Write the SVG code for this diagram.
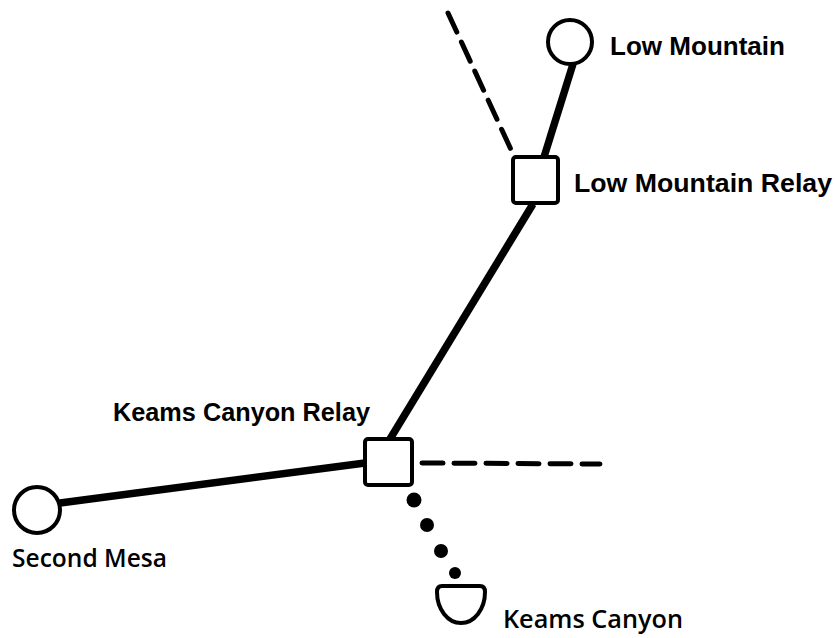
<svg xmlns="http://www.w3.org/2000/svg" width="836" height="638" viewBox="0 0 836 638">
<style>
.bg{fill:#fff}
.node{fill:#fff;stroke:#000;stroke-width:4}
.solid{stroke:#000;stroke-width:7.5;stroke-linecap:butt;fill:none}
.dash{stroke:#000;stroke-width:5;stroke-dasharray:21 11;stroke-linecap:round;fill:none}
.dot{fill:#000}
.lbl{font-family:"Liberation Sans",Arial,sans-serif;font-weight:bold;font-size:26px;fill:#000}
.lbl2{font-family:"Open Sans","Liberation Sans",sans-serif;font-weight:600;font-size:25px;fill:#000}
</style>
<rect class="bg" x="0" y="0" width="836" height="638"/>
<g id="connectors">
<line class="solid" x1="573" y1="64" x2="544" y2="157"/>
<line class="solid" x1="533" y1="204" x2="390" y2="439"/>
<line class="solid" x1="60" y1="503" x2="365" y2="463"/>
<line class="dash" x1="448" y1="13" x2="513" y2="154"/>
<line class="dash" x1="422" y1="463" x2="600" y2="464"/>
<circle class="dot" cx="414" cy="500" r="7.5"/>
<circle class="dot" cx="427" cy="525" r="7"/>
<circle class="dot" cx="441" cy="551" r="7"/>
<circle class="dot" cx="455" cy="573" r="6"/>
</g>
<g id="low-mountain">
<circle class="node" cx="570" cy="42" r="22"/>
<text class="lbl" x="610" y="55" textLength="175" lengthAdjust="spacingAndGlyphs">Low Mountain</text>
</g>
<g id="low-mountain-relay">
<rect class="node" x="513" y="157" width="45" height="46" rx="3"/>
<text class="lbl" x="574" y="192" textLength="258" lengthAdjust="spacingAndGlyphs">Low Mountain Relay</text>
</g>
<g id="keams-canyon-relay">
<rect class="node" x="365" y="439" width="47" height="46" rx="3"/>
<text class="lbl" x="113" y="421" textLength="257" lengthAdjust="spacingAndGlyphs">Keams Canyon Relay</text>
</g>
<g id="second-mesa">
<circle class="node" cx="37" cy="510" r="23"/>
<text class="lbl2" x="12" y="567" textLength="155" lengthAdjust="spacingAndGlyphs">Second Mesa</text>
</g>
<g id="keams-canyon">
<path class="node" d="M442,586 H480 Q485,586 485,592 A24,31 0 0 1 437,592 Q437,586 442,586 Z"/>
<text class="lbl2" x="503" y="628" textLength="180" lengthAdjust="spacingAndGlyphs">Keams Canyon</text>
</g>
</svg>
